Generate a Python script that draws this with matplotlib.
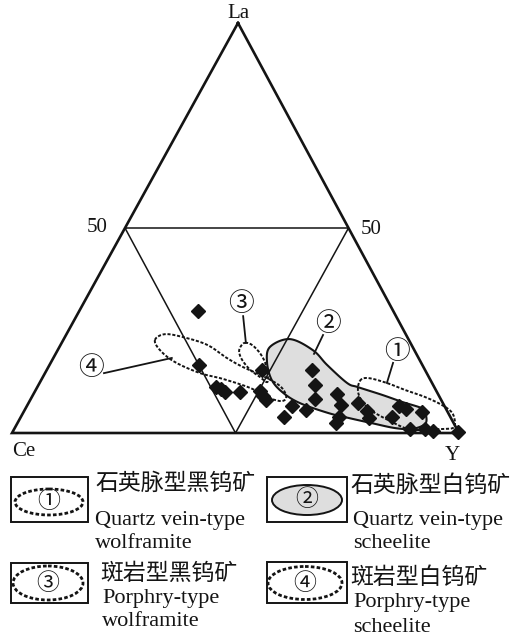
import numpy as np
import matplotlib
matplotlib.use("Agg")
import matplotlib.pyplot as plt
from matplotlib.patches import Rectangle, Ellipse, Polygon

plt.rcParams['font.family'] = ['Liberation Serif', 'Noto Sans CJK SC', 'DejaVu Sans']

# ---------------- data (ternary, percent) ----------------
corner_labels = ["La", "Ce", "Y"]
tick_label = "50"

# sample points: La %, Y %  (Ce = 100 - La - Y)
pts_La = [29.8, 16.6, 11.2, 10.7, 10.0, 10.0, 15.4, 10.2, 9.0, 8.0, 6.6, 3.9, 5.6,
          15.4, 11.7, 8.3, 9.5, 6.8, 3.9, 2.4, 7.3, 5.4, 3.7, 3.9, 6.6, 5.9, 5.1,
          1.0, 1.0, 0.5, 0.2]
pts_Y = [26.5, 33.4, 40.0, 41.3, 42.6, 45.9, 48.1, 50.3, 51.6, 52.8, 59.3, 58.9, 62.9,
         59.3, 61.8, 63.6, 67.9, 70.1, 71.2, 71.3, 73.7, 76.7, 78.0, 83.0, 83.2, 85.2, 89.1,
         88.5, 91.9, 93.9, 99.7]

# field 1: quartz vein-type wolframite
f1_La = [12.7, 13.4, 12.2, 10.5, 8.8, 6.8, 4.9, 2.4, 1.2, 1.0, 0.7, 1.2, 2.7, 4.9, 6.8, 9.8]
f1_Y = [71.4, 72.9, 77.7, 82.6, 87.9, 92.8, 96.0, 97.9, 98.0, 95.7, 89.8, 87.3, 83.6, 78.7, 75.5, 72.5]
# field 2: quartz vein-type scheelite
f2_La = [21.0, 22.9, 20.2, 16.6, 12.2, 11.2, 9.3, 7.6, 5.9, 4.4, 2.2, 1.0, 1.2, 2.4, 3.7, 4.9,
         7.3, 9.8, 12.9, 17.3]
f2_Y = [47.1, 50.6, 57.1, 62.1, 68.8, 71.7, 78.1, 83.4, 89.0, 90.4, 91.3, 89.0, 85.1, 79.3, 73.3,
        68.2, 60.7, 55.7, 51.6, 48.3]
# field 3: porphyry-type wolframite
f3_La = [22.0, 21.5, 19.5, 17.1, 14.1, 12.4, 13.7, 15.4, 17.8, 19.8, 21.2]
f3_Y = [41.0, 42.8, 45.6, 48.0, 50.1, 50.8, 48.5, 45.5, 42.5, 40.8, 40.5]
# field 4: porphyry-type scheelite
f4_La = [22.7, 24.1, 23.4, 21.5, 18.3, 16.1, 13.9, 11.5, 9.0, 7.8, 8.5, 11.0, 13.2, 14.6, 17.3, 20.2]
f4_Y = [20.5, 22.0, 26.4, 32.8, 38.8, 43.5, 49.1, 54.1, 56.8, 56.5, 53.4, 47.7, 40.5, 34.7, 27.7, 22.9]

field_marks = ["①", "②", "③", "④"]
legend_cn = ["石英脉型黑钨矿", "石英脉型白钨矿", "斑岩型黑钨矿", "斑岩型白钨矿"]
legend_en = [["Quartz vein-type", "wolframite"], ["Quartz vein-type", "scheelite"],
             ["Porphry-type", "wolframite"], ["Porphry-type", "scheelite"]]

# ---------------- geometry ----------------
P_LA = np.array([238.0, 23.0])
P_CE = np.array([12.0, 433.0])
P_Y = np.array([459.0, 433.0])


def tern(la, y):
    la = np.asarray(la, float) / 100.0
    y = np.asarray(y, float) / 100.0
    ce = 1.0 - la - y
    x = la * P_LA[0] + ce * P_CE[0] + y * P_Y[0]
    yy = la * P_LA[1] + ce * P_CE[1] + y * P_Y[1]
    return x, yy


def smooth_closed(x, y, n=14):
    P = np.column_stack([x, y])
    N = len(P)
    out = []
    t = np.linspace(0, 1, n, endpoint=False)[:, None]
    for i in range(N):
        p0, p1, p2, p3 = P[i - 1], P[i], P[(i + 1) % N], P[(i + 2) % N]
        seg = 0.5 * ((2 * p1) + (-p0 + p2) * t + (2 * p0 - 5 * p1 + 4 * p2 - p3) * t ** 2
                     + (-p0 + 3 * p1 - 3 * p2 + p3) * t ** 3)
        out.append(seg)
    out = np.vstack(out)
    return np.vstack([out, out[:1]])


fig = plt.figure(figsize=(5.12, 6.42), dpi=100)
ax = fig.add_axes([0, 0, 1, 1])
ax.set_xlim(0, 512)
ax.set_ylim(642, 0)
ax.axis('off')

ink = '#141414'
dash = (0, (1.6, 0.9))
cjk = ['Noto Sans CJK SC', 'DejaVu Sans']

# outer triangle
tx, ty = tern([100, 0, 0, 100], [0, 0, 100, 0])
ax.plot(tx, ty, color=ink, lw=1.9, solid_joinstyle='miter', zorder=3)
# inner triangle (50 lines)
ix, iy = tern([50, 50, 0, 50], [0, 50, 50, 0])
ax.plot(ix, iy, color=ink, lw=1.1, zorder=3)

# fields
x2, y2 = tern(f2_La, f2_Y)
s2 = smooth_closed(x2, y2)
ax.add_patch(Polygon(s2, closed=True, facecolor='#dedede', edgecolor=ink, lw=1.5, zorder=2))
for fl, fy in [(f1_La, f1_Y), (f3_La, f3_Y), (f4_La, f4_Y)]:
    xx, yy = tern(fl, fy)
    s = smooth_closed(xx, yy)
    ax.plot(s[:, 0], s[:, 1], color=ink, lw=1.4, linestyle=dash, zorder=4)

# points
px, py = tern(pts_La, pts_Y)
ax.plot(px, py, linestyle='none', marker='D', ms=7.5, color=ink, zorder=5)

# field labels with leaders (La, Y positions)
lab_pos = [(19.8, 76.1), (26.6, 57.2), (31.5, 35.3), (15.9, 9.6)]
lead_a = [(17.1, 76.6), (23.9, 57.5), (28.5, 37.3), (14.6, 13.2)]
lead_b = [(12.2, 77.7), (19.3, 57.8), (22.0, 41.2), (18.3, 26.5)]
for m, lp, a, b in zip(field_marks, lab_pos, lead_a, lead_b):
    lx, ly = tern(lp[0], lp[1])
    ax.text(lx, ly, m, ha='center', va='center', fontsize=18.5,
            family=cjk, color=ink, zorder=6)
    ax_, ay_ = tern([a[0], b[0]], [a[1], b[1]])
    ax.plot(ax_, ay_, color=ink, lw=1.3, zorder=4)

# corner labels
ax.text(238, 14, corner_labels[0], ha='center', va='center', fontsize=15, color=ink)
ax.text(24, 452, corner_labels[1], ha='center', va='center', fontsize=15, color=ink)
ax.text(452, 455, corner_labels[2], ha='center', va='center', fontsize=15, color=ink)
ax.text(97, 228, tick_label, ha='center', va='center', fontsize=15, color=ink)
ax.text(371, 229, tick_label, ha='center', va='center', fontsize=15, color=ink)

# legend
boxes = [(11, 477, 77, 45), (267, 477, 80, 45), (11, 563, 77, 40), (267, 562, 80, 41)]
ells = [(49, 502, 68, 26), (307, 500, 70, 30), (48, 583, 70, 34), (305, 583, 74, 33)]
cn_pos = [(95, 483), (350, 485), (100, 573), (350, 577)]
en_pos = [[(95, 520), (95, 543)], [(353, 520), (353, 543)],
          [(102, 599), (102, 622)], [(353, 603), (353, 627)]]
for i in range(4):
    bx, by, bw, bh = boxes[i]
    ax.add_patch(Rectangle((bx, by), bw, bh, fill=False, edgecolor=ink, lw=1.4))
    ex, ey, ew, eh = ells[i]
    if i == 1:
        ax.add_patch(Ellipse((ex, ey), ew, eh, facecolor='#dedede', edgecolor=ink, lw=1.4))
    else:
        ax.add_patch(Ellipse((ex, ey), ew, eh, fill=False, edgecolor=ink, lw=2.0,
                             linestyle=(0, (1.3, 0.8))))
    ax.text(ex, ey, field_marks[i], ha='center', va='center', fontsize=16.5,
            family=cjk, color=ink)
    ax.text(cn_pos[i][0], cn_pos[i][1], legend_cn[i], ha='left', va='center', fontsize=16.5,
            family=cjk, fontweight='light', color=ink)
    for (tx_, ty_), s in zip(en_pos[i], legend_en[i]):
        ax.text(tx_, ty_, s, ha='left', va='center', fontsize=16, color=ink)

fig.savefig('out.png', dpi=100)
